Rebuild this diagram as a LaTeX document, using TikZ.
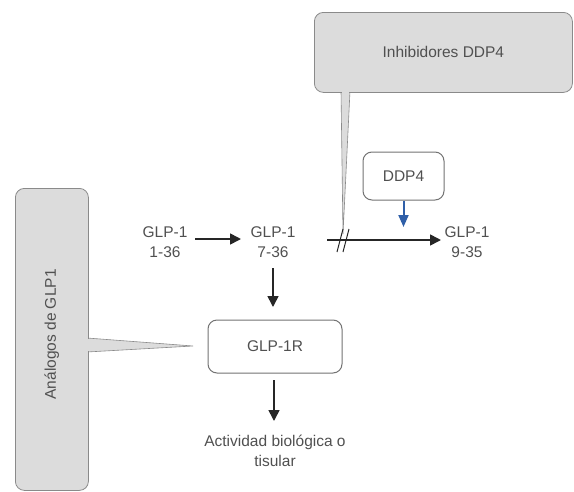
\documentclass[tikz,border=0pt]{standalone}
\usepackage{fontspec}
\setmainfont{Liberation Sans}
\usetikzlibrary{arrows.meta}
\definecolor{callfill}{HTML}{DCDCDC}
\definecolor{callline}{HTML}{8A8A8A}
\definecolor{txt}{HTML}{505050}
\definecolor{ddpblue}{HTML}{2F5FA8}
\begin{document}
\begin{tikzpicture}[x=1pt,y=-1pt,
  lbl/.style={text=txt,font=\fontsize{15.5}{19.5}\selectfont,align=center,inner sep=1pt},
  callbox/.style={draw=callline,fill=callfill,rounded corners=9pt,line width=0.8pt},
  wedge/.style={draw=callline,fill=callfill,line width=0.6pt},
  wbox/.style={draw=txt!80,fill=white,rounded corners=9pt,line width=1pt,text=txt,font=\fontsize{15.5}{19.5}\selectfont},
  arr/.style={-{Triangle[length=11pt,width=11pt]},line width=1.6pt,black!85},
  barr/.style={-{Triangle[length=12pt,width=10pt]},line width=2pt,ddpblue}]
\useasboundingbox (0,0) rectangle (574,491);
% callout wedges
\coordinate (tipI) at (343,234);
\coordinate (tipA) at (193,346);
\draw[wedge] (341,91) -- (tipI) -- (350,91) -- cycle;
\draw[wedge] (87,338) -- (tipA) -- (87,352) -- cycle;
% callout boxes
\node[callbox,minimum width=258pt,minimum height=80pt,anchor=north west] (inh) at (314,12) {};
\node[lbl] at (inh.center) {Inhibidores DDP4};
\node[callbox,minimum width=73pt,minimum height=302pt,anchor=north west] (ana) at (15,188) {};
\node[lbl,rotate=90] at ([yshift=5pt]ana.center) {Análogos de GLP1};
% cover wedge bases
\fill[callfill] (341.8,89) rectangle (349.2,93);
\fill[callfill] (86,338.8) rectangle (90,351.2);
% nodes
\node[lbl] (g1) at (165,242) {GLP-1\\1-36};
\node[lbl] (g7) at (273,242) {GLP-1\\7-36};
\node[lbl] (g9) at (467,242) {GLP-1\\9-35};
\node[wbox,minimum width=81pt,minimum height=48pt] (ddp) at (403.5,176) {DDP4};
\node[wbox,minimum width=134pt,minimum height=53pt] (rec) at (275,346.5) {GLP-1R};
\node[lbl] (act) at (275,451) {Actividad biológica o\\tisular};
% connectors
\coordinate (s1) at (195,239);
\coordinate (e1) at (241,239);
\draw[arr] (s1) -- (e1);
\coordinate (s9) at (327,240);
\coordinate (e9) at (441,240);
\draw[arr] (s9) -- (e9);
\draw[line width=1pt,black!85] (337,252) -- (343,229) (343,252) -- (349,229);
\coordinate (sb) at (403.5,201);
\coordinate (eb) at (403.5,227);
\draw[barr] (sb) -- (eb);
\coordinate (s7) at (273,268);
\coordinate (e7) at (273,307);
\draw[arr] (s7) -- (e7);
\coordinate (sr) at (274,380);
\coordinate (er) at (274,421);
\draw[arr] (sr) -- (er);
\end{tikzpicture}
\end{document}
